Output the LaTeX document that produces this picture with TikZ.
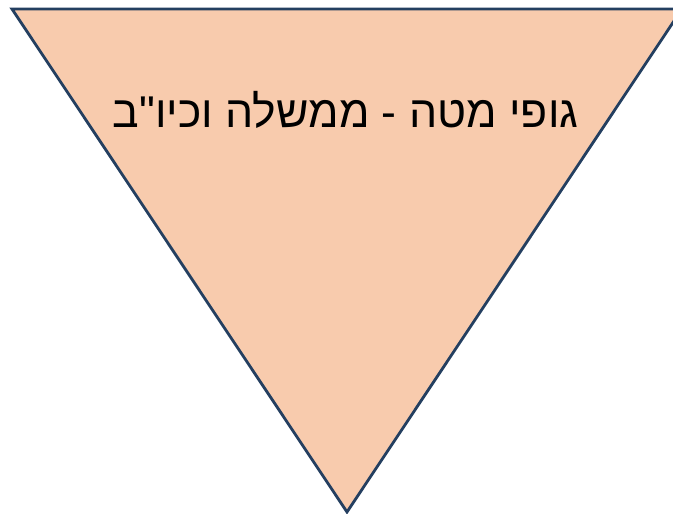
\documentclass[tikz,border=0pt]{standalone}
\usepackage{fontspec}
\newfontfamily\hebfont[Script=Hebrew]{Liberation Sans}
\TeXXeTstate=1
\definecolor{trifill}{HTML}{F8CBAD}
\definecolor{triline}{HTML}{243F60}
\begin{document}
\begin{tikzpicture}[x=1pt,y=1pt,
  tri/.style={fill=trifill,draw=triline,line width=2.8pt,line join=miter}]
\useasboundingbox (0,0) rectangle (673,514);
\coordinate (tl) at (12,505);
\coordinate (tr) at (682,505);
\coordinate (ap) at (347,2);
\draw[tri] (tl) -- (tr) -- (ap) -- cycle;
\node[font=\hebfont\fontsize{44.5}{50}\selectfont,anchor=base,inner sep=0pt] (lbl) at (345.5,386) {\beginR גופי מטה - ממשלה וכיו"ב\endR};
\end{tikzpicture}
\end{document}
